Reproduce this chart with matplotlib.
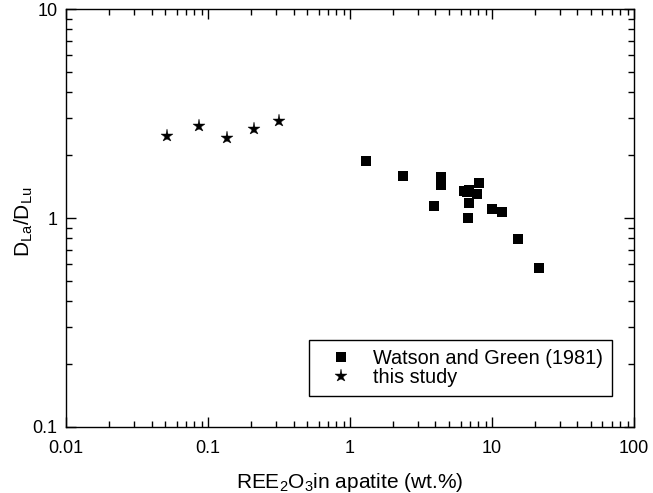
import matplotlib
matplotlib.use("Agg")
import matplotlib.pyplot as plt
from matplotlib.ticker import LogLocator, FuncFormatter, NullFormatter

plt.rcParams['font.family'] = ['Liberation Sans', 'DejaVu Sans']
plt.rcParams['mathtext.fontset'] = 'custom'
plt.rcParams['mathtext.rm'] = 'Liberation Sans'
plt.rcParams['mathtext.it'] = 'Liberation Sans'

# Watson and Green (1981)
wg_ree2o3 = [1.29, 2.38, 4.35, 4.37, 3.88, 8.07, 6.63, 6.4, 6.9, 7.80, 6.89, 6.78, 9.96, 11.7, 15.3, 21.6]
wg_ratio = [1.88, 1.58, 1.57, 1.44, 1.14, 1.47, 1.33, 1.34, 1.36, 1.30, 1.18, 1.00, 1.10, 1.07, 0.791, 0.578]

# this study
ts_ree2o3 = [0.0513, 0.087, 0.137, 0.212, 0.318]
ts_ratio = [2.47, 2.76, 2.42, 2.68, 2.92]

fig = plt.figure(figsize=(6.53, 4.93), dpi=100)
ax = fig.add_axes([0.1011, 0.1339, 0.8698, 0.8478])

ax.plot(wg_ree2o3, wg_ratio, 's', color='black', markersize=7.3, markeredgewidth=0,
        linestyle='none', label='Watson and Green (1981)')
ax.plot(ts_ree2o3, ts_ratio, '*', color='black', markersize=9.5, markeredgewidth=0.3,
        linestyle='none', label='this study')

ax.set_xscale('log')
ax.set_yscale('log')
ax.set_xlim(0.01, 100)
ax.set_ylim(0.1, 10)

fmt = FuncFormatter(lambda v, p: '%g' % v)
ax.xaxis.set_major_formatter(fmt)
ax.yaxis.set_major_formatter(fmt)
ax.xaxis.set_minor_formatter(NullFormatter())
ax.yaxis.set_minor_formatter(NullFormatter())
ax.xaxis.set_minor_locator(LogLocator(base=10, subs=range(2, 10)))
ax.yaxis.set_minor_locator(LogLocator(base=10, subs=range(2, 10)))

ax.tick_params(which='both', direction='in', top=True, right=True, labelsize=13, width=1)
ax.tick_params(which='major', length=7.2, pad=6)
ax.tick_params(axis='x', which='major', pad=9.5)
ax.tick_params(which='minor', length=4.3)
for s in ax.spines.values():
    s.set_linewidth(1)

ax.set_xlabel(r'REE$_2$O$_3$in apatite (wt.%)', fontsize=15, labelpad=10)
ax.set_ylabel(r'D$_{\rm La}$/D$_{\rm Lu}$', fontsize=15)
ax.yaxis.set_label_coords(-0.055, 0.49)

leg = ax.legend(loc='lower right', bbox_to_anchor=(0.961, 0.074), borderaxespad=0,
                fontsize=14.3, frameon=True, fancybox=False, edgecolor='black',
                framealpha=1, handlelength=2.33, handletextpad=0.45,
                borderpad=0.45, labelspacing=0.0)
leg.get_frame().set_linewidth(1)

fig.savefig('out.png', dpi=100)
